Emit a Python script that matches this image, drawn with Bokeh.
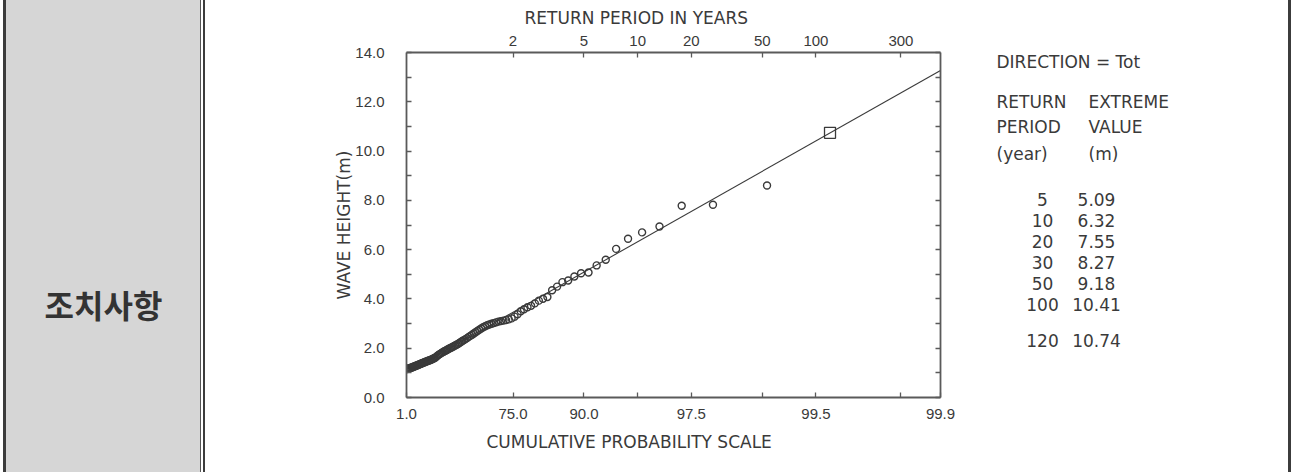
import numpy as np
from bokeh.plotting import figure
from bokeh.layouts import row
from bokeh.models import (Range1d, LinearAxis, FixedTicker, CustomJSTickFormatter,
                          PrintfTickFormatter, Title)
from bokeh.core.properties import value
from bokeh.embed import file_html
from bokeh.resources import INLINE

# ---------------- data ----------------
EVENTS_PER_YEAR = 2.0          # storm events per year (links top and bottom scales)

CUM_PROB_PCT = [
    0.94, 1.89, 2.83, 3.77, 4.72, 5.66, 6.60, 7.55, 8.49, 9.43,
    10.38, 11.32, 12.26, 13.21, 14.15, 15.09, 16.04, 16.98, 17.92, 18.87,
    19.81, 20.75, 21.70, 22.64, 23.58, 24.53, 25.47, 26.42, 27.36, 28.30,
    29.25, 30.19, 31.13, 32.08, 33.02, 33.96, 34.91, 35.85, 36.79, 37.74,
    38.68, 39.62, 40.57, 41.51, 42.45, 43.40, 44.34, 45.28, 46.23, 47.17,
    48.11, 49.06, 50.00, 50.94, 51.89, 52.83, 53.77, 54.72, 55.66, 56.60,
    57.55, 58.49, 59.43, 60.38, 61.32, 62.26, 63.21, 64.15, 65.09, 66.04,
    66.98, 67.92, 68.87, 69.81, 70.75, 71.70, 72.64, 73.58, 74.53, 75.47,
    76.42, 77.36, 78.30, 79.25, 80.19, 81.13, 82.08, 83.02, 83.96, 84.91,
    85.85, 86.79, 87.74, 88.68, 89.62, 90.57, 91.51, 92.45, 93.40, 94.34,
    95.28, 96.23, 97.17, 98.11, 99.06,
]
WAVE_HEIGHT_M = [
    1.15, 1.16, 1.17, 1.18, 1.19, 1.20, 1.21, 1.22, 1.23, 1.25,
    1.26, 1.27, 1.29, 1.30, 1.31, 1.33, 1.34, 1.36, 1.37, 1.39,
    1.40, 1.42, 1.43, 1.45, 1.46, 1.48, 1.49, 1.51, 1.52, 1.54,
    1.56, 1.58, 1.60, 1.63, 1.67, 1.71, 1.74, 1.77, 1.80, 1.83,
    1.86, 1.89, 1.91, 1.94, 1.97, 2.00, 2.02, 2.05, 2.08, 2.11,
    2.14, 2.17, 2.21, 2.25, 2.29, 2.33, 2.37, 2.41, 2.46, 2.50,
    2.55, 2.60, 2.65, 2.70, 2.75, 2.80, 2.85, 2.89, 2.93, 2.96,
    2.99, 3.02, 3.05, 3.08, 3.10, 3.12, 3.14, 3.17, 3.21, 3.28,
    3.38, 3.50, 3.58, 3.66, 3.72, 3.82, 3.93, 4.01, 4.08, 4.35,
    4.50, 4.68, 4.75, 4.91, 5.04, 5.07, 5.36, 5.59, 6.03, 6.44,
    6.70, 6.94, 7.78, 7.82, 8.60,
]

RETURN_PERIOD_YR = [5, 10, 20, 30, 50, 100, 120]
EXTREME_VALUE_M = [5.09, 6.32, 7.55, 8.27, 9.18, 10.41, 10.74]
DESIGN_PERIOD_YR = 120
DESIGN_VALUE_M = 10.74

TOP_TICK_YR = [2, 5, 10, 20, 50, 100, 300]
TOP_TICK_LABELS = ["2", "5", "10", "20", "50", "100", "300"]
BOTTOM_TICK_PCT = [1.0, 75.0, 90.0, 97.5, 99.5, 99.9]
BOTTOM_TICK_LABELS = ["1.0", "75.0", "90.0", "97.5", "99.5", "99.9"]
BOTTOM_EXTRA_TICK_YR = [10, 50, 300]
Y_TICKS = [0.0, 2.0, 4.0, 6.0, 8.0, 10.0, 12.0, 14.0]
Y_MINOR_TICKS = [1.0, 3.0, 5.0, 7.0, 9.0, 11.0, 13.0]
X_LIMITS_PCT = (1.0, 99.9)
Y_LIMITS_M = (0.0, 14.0)

DIRECTION = "Tot"
SECTION_LABEL = "조치사항"

# ---------------- styling ----------------
INK = "#3a3a3a"
AXIS = "#5a5a5a"
RULE = "#3c3c3c"
CELL = "#d6d6d6"
WORD_FONT = "DejaVu Sans"
NUM_FONT = "Liberation Sans"

# ---------------- page geometry (page pixels) ----------------
H = 472
FRAME_TOP, FRAME_BOTTOM = 52, 397
BORDER_TOP, BORDER_BOTTOM = FRAME_TOP, H - FRAME_BOTTOM


def prob_to_u(p_pct):
    return -np.log(1.0 - np.asarray(p_pct, dtype=float) / 100.0)


def period_to_u(t_yr):
    return np.log(EVENTS_PER_YEAR * np.asarray(t_yr, dtype=float))


def label_formatter(tick_vals, tick_texts):
    return CustomJSTickFormatter(
        args=dict(tvals=[float(t) for t in tick_vals], ttexts=list(tick_texts)),
        code="""
        let best = 0, d = Infinity;
        for (let i = 0; i < tvals.length; i++) {
            const e = Math.abs(tvals[i] - tick);
            if (e < d) { d = e; best = i; }
        }
        return ttexts[best];
        """)


def style_axis(ax):
    ax.axis_line_color = AXIS
    ax.axis_line_width = 1.8
    ax.major_tick_line_color = AXIS
    ax.major_tick_line_width = 1.3
    ax.major_tick_in = 5
    ax.major_tick_out = 0
    ax.minor_tick_line_color = None
    ax.major_label_text_font = NUM_FONT
    ax.major_label_text_font_size = "15px"
    ax.major_label_text_color = INK
    ax.axis_label_text_font = WORD_FONT
    ax.axis_label_text_font_size = "17px"
    ax.axis_label_text_font_style = "normal"
    ax.axis_label_text_color = INK


def panel(x0, width, color=None):
    """A full-height strip of the page; its colour comes from CSS so it is seamless."""
    kw = {}
    if color is not None:
        kw["styles"] = {"background-color": color}
    f = figure(width=width, height=H, output_backend="svg", toolbar_location=None,
               x_range=Range1d(x0, x0 + width), y_range=Range1d(FRAME_BOTTOM, FRAME_TOP),
               x_axis_location=None, y_axis_location=None, title=None,
               min_border_left=0, min_border_right=0,
               min_border_top=BORDER_TOP, min_border_bottom=BORDER_BOTTOM, **kw)
    f.outline_line_color = None
    f.grid.visible = False
    f.background_fill_color = None
    f.border_fill_color = None
    return f


# ---------------- left cell with double rule ----------------
s0 = panel(0, 3)
s1 = panel(3, 3, RULE)
pA = panel(6, 194, CELL)
pA.text(x=[103], y=[303], text=[SECTION_LABEL], text_font=value("Noto Sans CJK KR"),
        text_font_style="bold", text_font_size="32px", text_align="center",
        text_baseline="middle", text_color="#333333")
s2 = panel(200, 1, "#555555")
s3 = panel(201, 2)
s4 = panel(203, 2, RULE)

# ---------------- main probability chart ----------------
B_X0, B_W = 205, 755
u_lo, u_hi = prob_to_u(list(X_LIMITS_PCT))
pB = figure(width=B_W, height=H, output_backend="svg", toolbar_location=None,
            x_range=Range1d(u_lo, u_hi), y_range=Range1d(*Y_LIMITS_M),
            x_axis_location=None, y_axis_location=None, title=None,
            min_border_left=201, min_border_right=20, min_border_top=BORDER_TOP,
            min_border_bottom=BORDER_BOTTOM)
pB.outline_line_color = None
pB.grid.visible = False

yax = LinearAxis(ticker=FixedTicker(ticks=Y_TICKS, minor_ticks=Y_MINOR_TICKS),
                 formatter=PrintfTickFormatter(format="%.1f"),
                 axis_label="WAVE HEIGHT(m)")
style_axis(yax)
yax.minor_tick_line_color = AXIS
yax.minor_tick_line_width = 1.3
yax.minor_tick_in = 5
yax.minor_tick_out = 0
yax.major_label_standoff = 22
yax.axis_label_standoff = -2
pB.add_layout(yax, "left")

rax = LinearAxis(ticker=FixedTicker(ticks=Y_TICKS, minor_ticks=Y_MINOR_TICKS),
                 formatter=CustomJSTickFormatter(code="return '';"))
style_axis(rax)
rax.minor_tick_line_color = AXIS
rax.minor_tick_line_width = 1.3
rax.minor_tick_in = 5
rax.minor_tick_out = 0
rax.major_label_standoff = 0
rax.major_label_text_font_size = "6px"
pB.add_layout(rax, "right")

top_u = period_to_u(TOP_TICK_YR)
tax = LinearAxis(ticker=FixedTicker(ticks=[float(v) for v in top_u]),
                 formatter=label_formatter(top_u, TOP_TICK_LABELS))
style_axis(tax)
tax.major_label_standoff = 7
pB.add_layout(tax, "above")
pB.add_layout(Title(text="RETURN PERIOD IN YEARS", align="left", offset=118, standoff=9,
                    text_font=WORD_FONT, text_font_size="17px", text_font_style="normal",
                    text_color=INK), "above")

bot_u = [float(v) for v in prob_to_u(BOTTOM_TICK_PCT)] + \
        [float(v) for v in period_to_u(BOTTOM_EXTRA_TICK_YR)]
bot_labels = BOTTOM_TICK_LABELS + [""] * len(BOTTOM_EXTRA_TICK_YR)
bax = LinearAxis(ticker=FixedTicker(ticks=bot_u), formatter=label_formatter(bot_u, bot_labels))
style_axis(bax)
bax.major_label_standoff = 11
pB.add_layout(bax, "below")
pB.add_layout(Title(text="CUMULATIVE PROBABILITY SCALE", align="left", offset=80, standoff=16,
                    text_font=WORD_FONT, text_font_size="17px", text_font_style="normal",
                    text_color=INK), "below")

# fitted extreme-value line (least squares through the tabulated estimates)
coef = np.polyfit(period_to_u(RETURN_PERIOD_YR), EXTREME_VALUE_M, 1)
line_u = np.array([u_lo, u_hi])
pB.line(x=line_u, y=np.polyval(coef, line_u), line_color=INK, line_width=1.1)

pB.scatter(x=prob_to_u(CUM_PROB_PCT), y=WAVE_HEIGHT_M, marker="circle", size=7,
           fill_color=None, line_color=INK, line_width=1.4)
pB.scatter(x=[float(period_to_u(DESIGN_PERIOD_YR))], y=[DESIGN_VALUE_M], marker="square",
           size=11, fill_color=None, line_color=INK, line_width=1.3)

# ---------------- right-hand table ----------------
C_X0 = B_X0 + B_W
pC = panel(C_X0, 1288 - C_X0)

head_x = [996, 996, 1088, 996, 1088, 996, 1088]
head_y = [61, 101, 101, 126, 126, 153, 153]
head_t = ["DIRECTION = " + DIRECTION, "RETURN", "EXTREME", "PERIOD", "VALUE", "(year)", "(m)"]
pC.text(x=head_x, y=head_y, text=head_t, text_font=value(WORD_FONT), text_font_size="17px",
        text_align="left", text_baseline="middle", text_color=INK)

row_y = [199 + 21 * k for k in range(len(RETURN_PERIOD_YR) - 1)] + [340]
pC.text(x=[1042] * len(RETURN_PERIOD_YR), y=row_y, text=[str(t) for t in RETURN_PERIOD_YR],
        text_font=value(WORD_FONT), text_font_size="17px", text_align="center",
        text_baseline="middle", text_color=INK)
pC.text(x=[1096] * len(EXTREME_VALUE_M), y=row_y, text=[f"{v:.2f}" for v in EXTREME_VALUE_M],
        text_font=value(WORD_FONT), text_font_size="17px", text_align="center",
        text_baseline="middle", text_color=INK)

s5 = panel(1288, 3, RULE)
s6 = panel(1291, 1)

layout = row(s0, s1, pA, s2, s3, s4, pB, pC, s5, s6, spacing=0)
open("out.html", "w").write(file_html(layout, INLINE))
